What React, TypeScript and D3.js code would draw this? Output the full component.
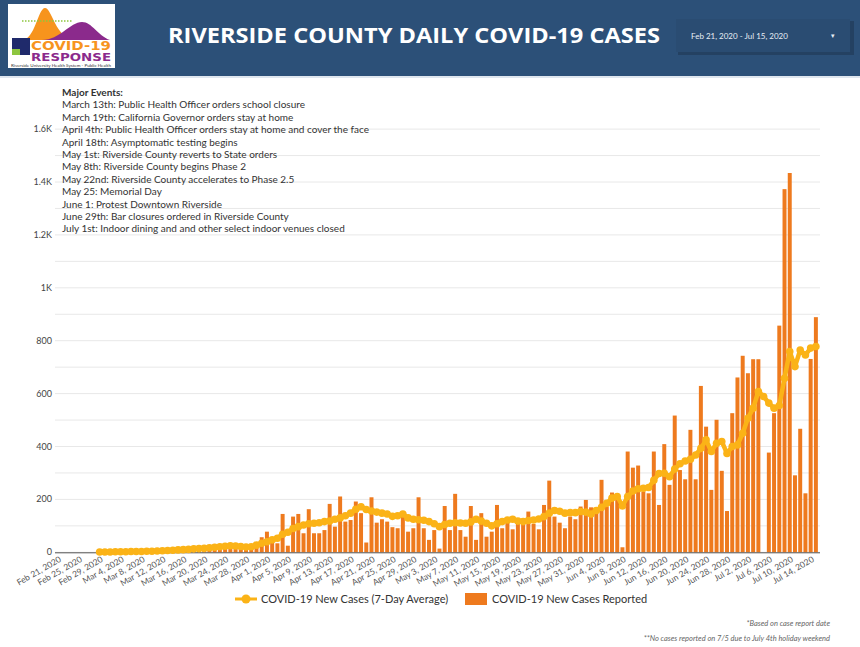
import React from 'react';
import * as d3 from 'd3';

// ---------- DATA ----------
const startDate = new Date(2020, 1, 21);
const endDate = new Date(2020, 6, 16);
const dates: Date[] = d3.timeDay.range(startDate, endDate); // Feb 21 .. Jul 15

const newCases: number[] = [
  0, 0, 0, 0, 0, 0, 0, 0, 0, 1,
  0, 2, 1, 3, 2, 4, 3, 5, 4, 8,
  6, 9, 10, 12, 11, 14, 15, 18, 16, 22,
  20, 26, 24, 28, 19, 14, 18, 21, 28, 57,
  78, 57, 34, 145, 25, 135, 145, 72, 163, 72,
  72, 84, 183, 97, 211, 116, 122, 192, 148, 37,
  208, 112, 125, 116, 95, 91, 150, 78, 91, 208,
  91, 47, 84, 14, 175, 84, 221, 84, 59, 175,
  47, 148, 59, 78, 179, 91, 129, 87, 116, 107,
  154, 107, 87, 179, 271, 135, 112, 91, 135, 125,
  173, 198, 170, 166, 274, 173, 226, 211, 19, 381,
  320, 328, 230, 223, 381, 179, 409, 255, 517, 311,
  276, 463, 276, 629, 475, 236, 501, 308, 156, 526,
  661, 743, 677, 730, 730, 0, 377, 526, 857, 1373,
  1434, 291, 467, 223, 731, 889,
];

const avgCases: (number | null)[] = [
  null, null, null, null, null, null, null, null, 1, 1,
  1, 2, 2, 2, 3, 3, 3, 4, 4, 5,
  6, 7, 8, 9, 10, 11, 13, 14, 15, 17,
  19, 21, 23, 25, 24, 22, 20, 21, 27, 34,
  40, 47, 53, 68, 76, 90, 97, 103, 108, 110,
  112, 116, 118, 125, 130, 138, 148, 163, 172, 162,
  156, 152, 148, 145, 136, 138, 145, 130, 125, 123,
  121, 116, 108, 97, 105, 110, 112, 111, 110, 115,
  125, 118, 110, 100, 108, 116, 122, 125, 118, 116,
  120, 122, 126, 135, 148, 158, 155, 148, 150, 150,
  154, 152, 145, 158, 170, 185, 205, 211, 175, 211,
  232, 240, 242, 245, 272, 298, 299, 286, 315, 335,
  345, 352, 368, 393, 425, 381, 412, 419, 374, 400,
  406, 450, 507, 545, 608, 589, 564, 545, 555, 658,
  759, 702, 765, 746, 772, 778,
];

const yTickValues = [0, 200, 400, 600, 800, 1000, 1200, 1400, 1600];
const yTickLabels = ['0', '200', '400', '600', '800', '1K', '1.2K', '1.4K', '1.6K'];
const gridValues = d3.range(0, 1700, 100);

const events = [
  'March 13th: Public Health Officer orders school closure',
  'March 19th: California Governor orders stay at home',
  'April 4th: Public Health Officer orders stay at home and cover the face',
  'April 18th: Asymptomatic testing begins',
  'May 1st: Riverside County reverts to State orders',
  'May 8th: Riverside County begins Phase 2',
  'May 22nd: Riverside County accelerates to Phase 2.5',
  'May 25: Memorial Day',
  'June 1: Protest Downtown Riverside',
  'June 29th: Bar closures ordered in Riverside County',
  'July 1st: Indoor dining and and other select indoor venues closed',
];

const seriesNames = ['COVID-19 New Cases (7-Day Average)', 'COVID-19 New Cases Reported'];

const BAR = '#EE7A1E';
const LINE = '#FBB317';
const HEADER = '#2C5078';
const FONT = 'Lato, "Open Sans", sans-serif';

export default function App() {
  const idx = d3.range(dates.length);
  const x = d3
    .scaleBand<number>()
    .domain(idx)
    .range([55.2, 818.5])
    .paddingInner(0.24)
    .paddingOuter(0.12);
  const bw = x.bandwidth();
  const cx = (i: number) => (x(i) as number) + bw / 2;
  const y = d3.scaleLinear().domain([0, 1600]).range([552.3, 129.1]);

  const fmt = d3.timeFormat('%b %-d, %Y');
  const tickIdx = idx.filter((i) => i % 4 === 0);

  const lineGen = d3
    .line<number>()
    .defined((i) => avgCases[i] != null)
    .x((i) => cx(i))
    .y((i) => y(avgCases[i] as number));

  return (
    <svg
      width={860}
      height={647}
      style={{ position: 'absolute', left: 0, top: 0, background: '#fff' }}
      fontFamily={FONT}
    >
      {/* Header */}
      <rect x={0} y={0} width={860} height={76} fill={HEADER} />
      <rect x={0} y={76} width={860} height={2} fill="#dfe6ee" />
      <text
        x={414}
        y={43}
        textAnchor="middle"
        fill="#fff"
        fontSize={21}
        fontWeight={700}
        fontFamily='"Open Sans", Lato, sans-serif'
        textLength={492}
        lengthAdjust="spacingAndGlyphs"
      >
        RIVERSIDE COUNTY DAILY COVID-19 CASES
      </text>
      {/* date range control */}
      <rect x={678} y={21} width={176} height={34} fill="#000" opacity={0.18} />
      <rect x={676} y={19} width={174} height={33} fill="#2A4C72" />
      <text x={691} y={38.5} fill="#e8eef5" fontSize={8}>
        Feb 21, 2020 - Jul 15, 2020
      </text>
      <text x={831} y={38} fill="#e8eef5" fontSize={7}>
        ▾
      </text>

      {/* Logo */}
      <g>
        <rect x={8} y={4} width={107} height={64} fill="#fff" />
        <path d="M22,40 C35,40 38,8 45,8 C52,8 55,38 75,40 Z" fill="#F7941D" />
        <path d="M42,40 C60,40 70,22 82,22 C92,22 98,36 110,40 Z" fill="#8B2A8C" />
        <line x1={22} y1={21} x2={72} y2={21} stroke="#8DC63F" strokeWidth={1.5} strokeDasharray="1.5,1.5" />
        <rect x={12} y={38} width={18} height={17} fill="#1F2A6B" />
        <rect x={12} y={49} width={8} height={6} fill="#8DC63F" />
        <text x={31} y={50} fill="#F7941D" fontSize={12.5} fontWeight={900} fontFamily='"DejaVu Sans", sans-serif' textLength={80} lengthAdjust="spacingAndGlyphs">
          COVID-19
        </text>
        <text x={31} y={60.5} fill="#8B2A8C" fontSize={10} fontWeight={700} fontFamily='"DejaVu Sans", sans-serif' textLength={80} lengthAdjust="spacingAndGlyphs">
          RESPONSE
        </text>
        <text x={11} y={66.8} fill="#333" fontSize={3.4} textLength={100} lengthAdjust="spacingAndGlyphs">
          Riverside University Health System - Public Health
        </text>
      </g>

      {/* Gridlines */}
      {gridValues.map((v) => (
        <line key={v} x1={55} x2={820} y1={y(v)} y2={y(v)} stroke="#e8e8e8" strokeWidth={1} />
      ))}

      {/* Y labels */}
      {yTickValues.map((v, k) => (
        <text key={v} x={52} y={y(v) + 3} textAnchor="end" fontSize={9} fill="#444">
          {yTickLabels[k]}
        </text>
      ))}

      {/* Events */}
      <g fontSize={10} fill="#333">
        <text x={62} y={96} fontWeight={700}>
          Major Events:
        </text>
        {events.map((e, k) => (
          <text key={k} x={62} y={96 + 12.4 * (k + 1)}>
            {e}
          </text>
        ))}
      </g>

      {/* Bars */}
      {newCases.map((v, i) => (
        <rect key={i} x={x(i)} y={y(v)} width={bw} height={Math.max(0, y(0) - y(v))} fill={BAR} />
      ))}

      {/* Baseline */}
      <line x1={55} x2={820} y1={y(0) + 0.5} y2={y(0) + 0.5} stroke="#555" strokeWidth={1} />

      {/* Line */}
      <path d={lineGen(idx) || ''} fill="none" stroke={LINE} strokeWidth={4.5} strokeLinejoin="round" />
      {idx
        .filter((i) => avgCases[i] != null)
        .map((i) => (
          <circle key={i} cx={cx(i)} cy={y(avgCases[i] as number)} r={3.8} fill={LINE} />
        ))}

      {/* X labels */}
      {tickIdx.map((i) => (
        <text
          key={i}
          transform={`translate(${cx(i) + 4},${561}) rotate(-30)`}
          textAnchor="end"
          fontSize={8.5}
          fill="#555"
        >
          {fmt(dates[i])}
        </text>
      ))}

      {/* Legend */}
      <line x1={235} x2={257} y1={599} y2={599} stroke={LINE} strokeWidth={3} />
      <circle cx={246} cy={599} r={4.5} fill={LINE} />
      <text x={261} y={603} fontSize={11} fill="#333">
        {seriesNames[0]}
      </text>
      <rect x={465} y={593} width={22} height={12} fill={BAR} />
      <text x={492} y={603} fontSize={11} fill="#333">
        {seriesNames[1]}
      </text>

      {/* Footnotes */}
      <text x={830} y={626} textAnchor="end" fontSize={7.5} fontStyle="italic" fill="#666">
        *Based on case report date
      </text>
      <text x={830} y={641} textAnchor="end" fontSize={7.5} fontStyle="italic" fill="#666">
        **No cases reported on 7/5 due to  July 4th holiday weekend
      </text>
    </svg>
  );
}
